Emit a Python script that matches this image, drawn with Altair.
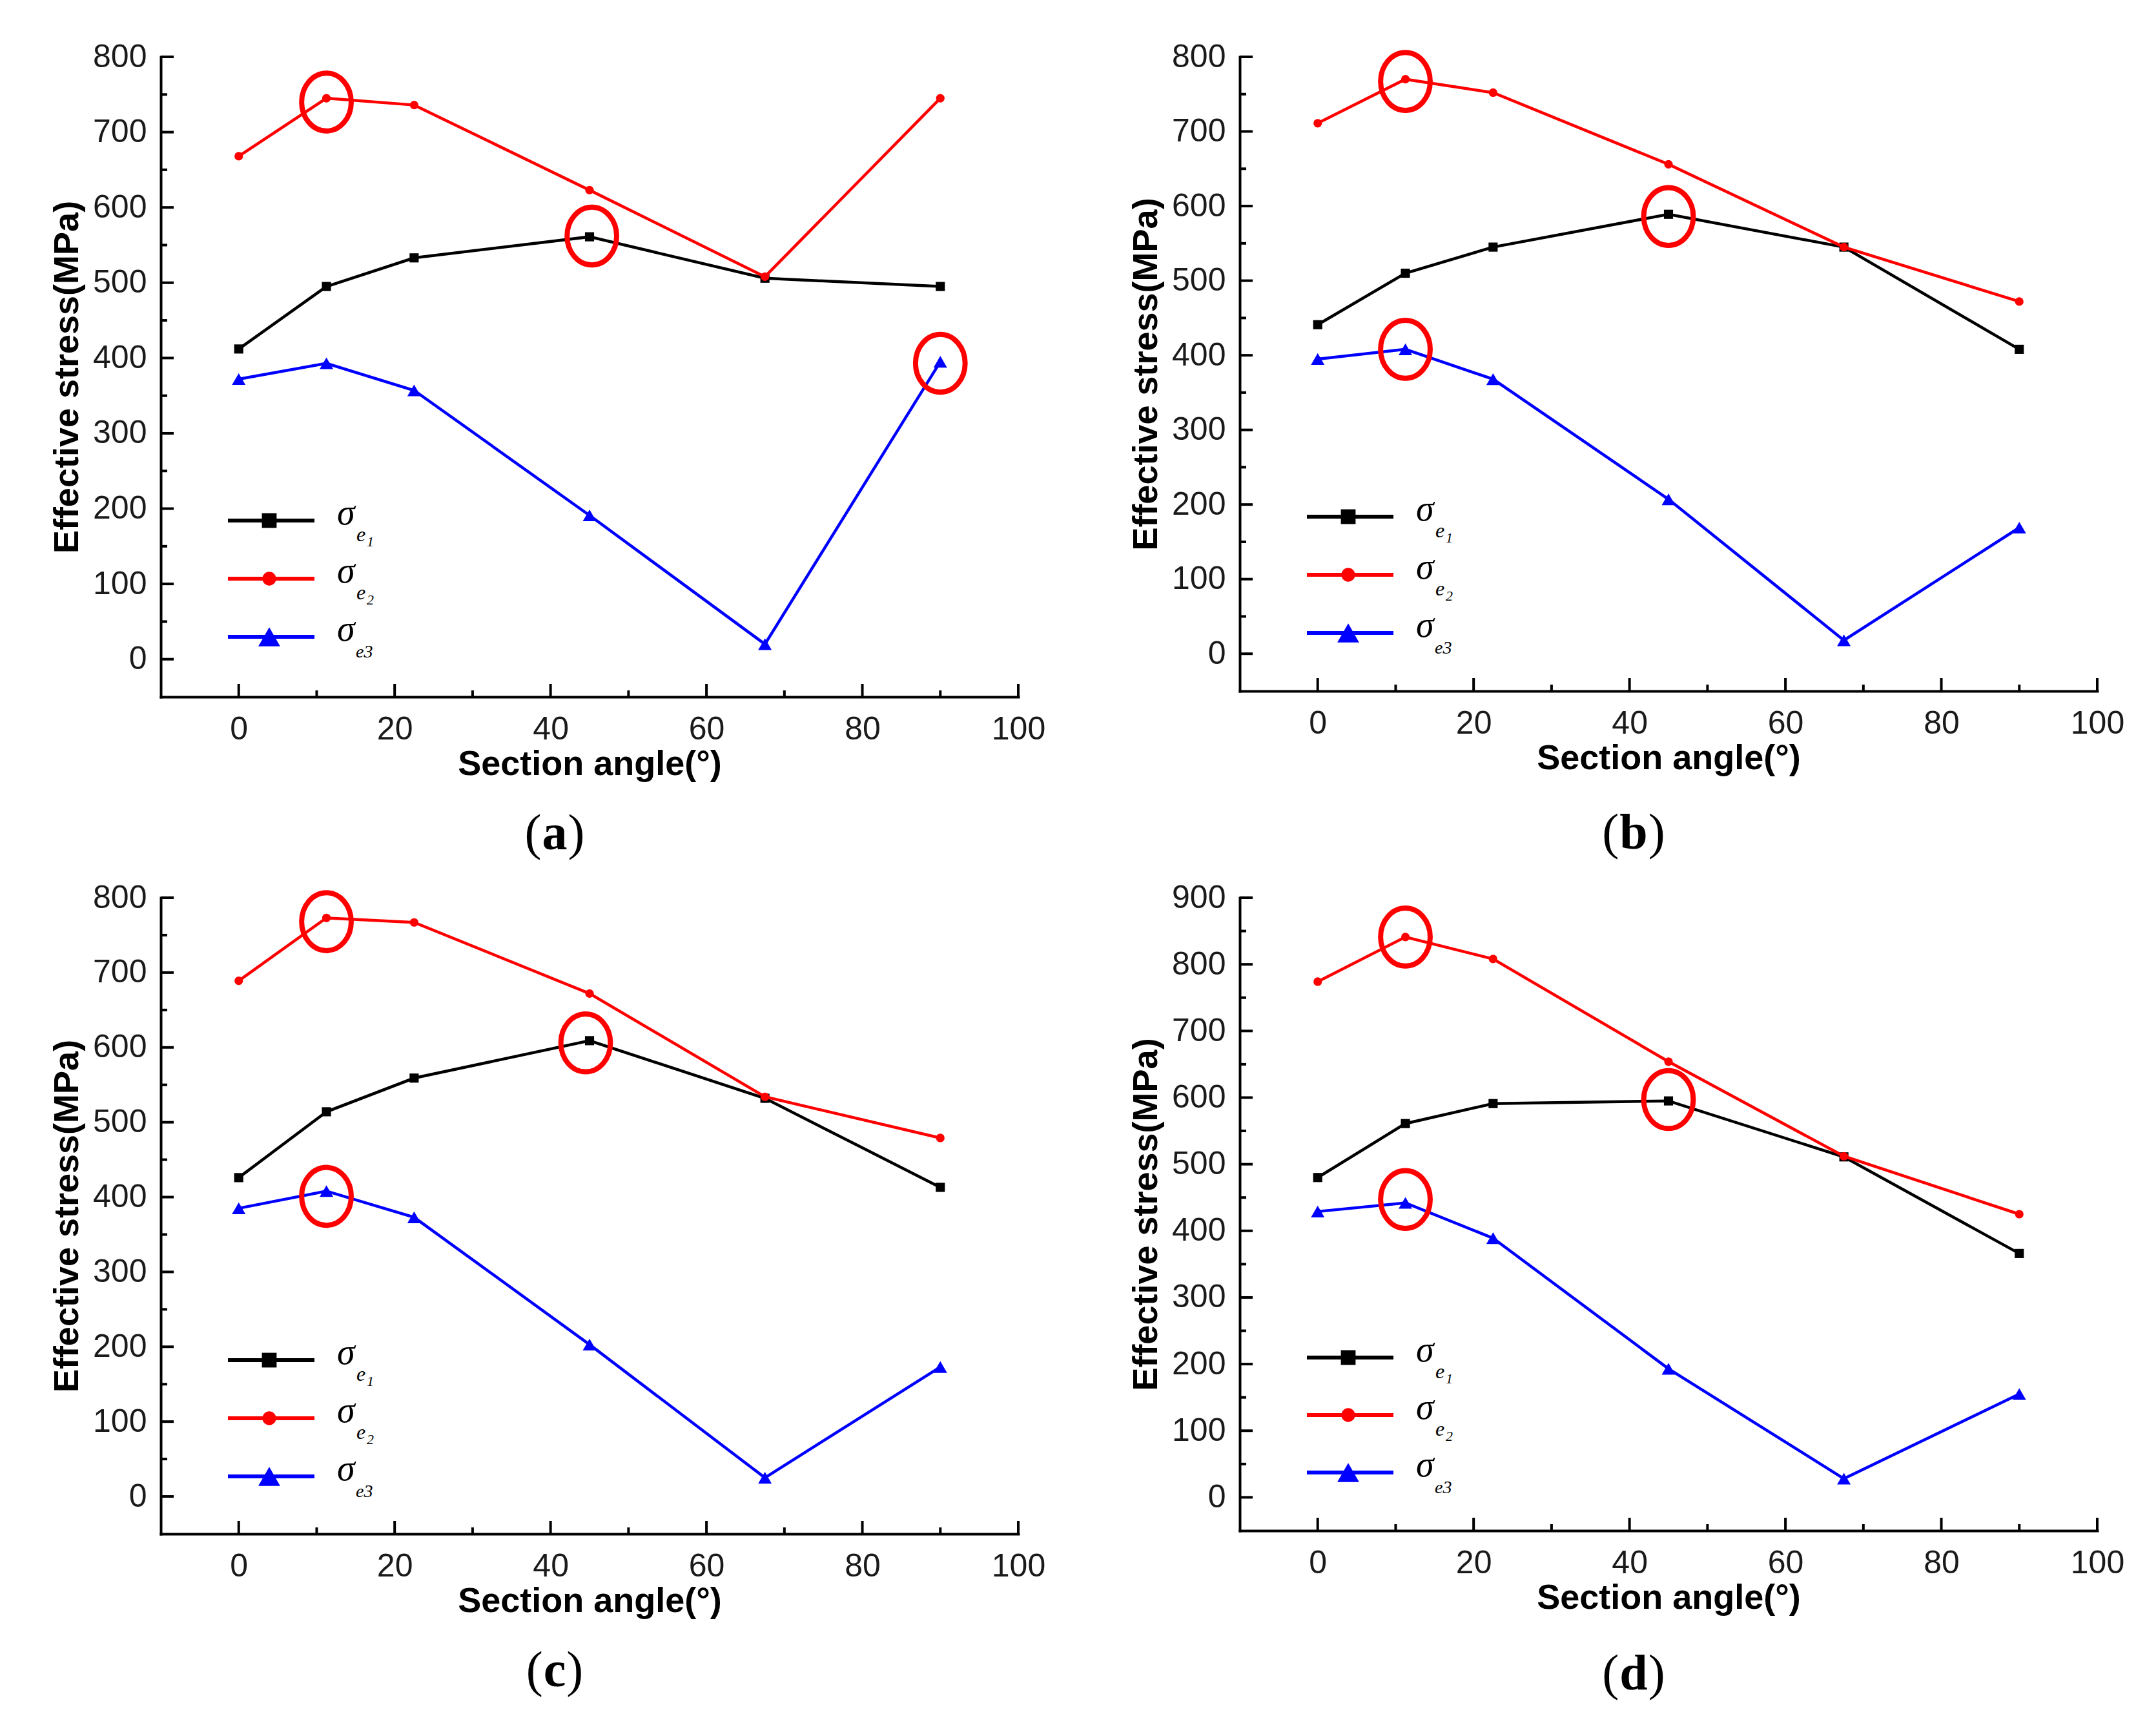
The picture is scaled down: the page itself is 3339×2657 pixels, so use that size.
import altair as alt
import pandas as pd

# ---------------- data ----------------
ANGLES = [0, 11.25, 22.5, 45, 67.5, 90]

A_E1 = [412, 495, 533, 561, 506, 495]
A_E2 = [668, 745, 736, 623, 508, 745]
A_E3 = [372, 393, 357, 191, 20, 395]
A_HX = [11.25, 45.3, 90]
A_HY = [740, 562, 393]

B_E1 = [441, 510, 545, 589, 545, 408]
B_E2 = [711, 770, 752, 656, 545, 472]
B_E3 = [395, 408, 368, 207, 18, 169]
B_HX = [11.25, 45, 11.25]
B_HY = [767, 586, 408]

C_E1 = [426, 514, 559, 609, 532, 413]
C_E2 = [689, 773, 767, 672, 534, 479]
C_E3 = [385, 408, 373, 203, 25, 173]
C_HX = [11.25, 44.5, 11.25]
C_HY = [768, 606, 401]

D_E1 = [480, 561, 591, 595, 511, 366]
D_E2 = [774, 841, 808, 654, 512, 425]
D_E3 = [429, 442, 389, 193, 28, 155]
D_HX = [11.25, 45, 11.25]
D_HY = [841, 597, 447]

X_LABELS = [0, 20, 40, 60, 80, 100]
X_MINOR = [10, 30, 50, 70, 90]

SUBS = ["1", "2", "3"]
COLORS = ["#000000", "#ff0000", "#0000ff"]
SHAPES = ["square", "circle", "triangle-up"]
SIZES = [200, 175, 440]

X_TITLE = "Section angle(°)"
Y_TITLE = "Effective stress(MPa)"

ONE = pd.DataFrame({"k": [0]})
ELLIPSE = "M0,-1.12A0.96,1.12,0,1,1,0,1.12A0.96,1.12,0,1,1,0,-1.12Z"
W = 1328
SANS = "Liberation Sans"
SERIF = "Liberation Serif"


def txt(t, x, y, size, style="normal", weight="normal", align="left"):
    return alt.Chart(ONE).mark_text(
        text=t, font=SERIF, fontSize=size, fontStyle=style, fontWeight=weight,
        align=align, baseline="alphabetic", color="black"
    ).encode(x=alt.value(x), y=alt.value(y))


def panel(series, hx, hy, ymax, h, letter, leg_y0, leg_step, lab_y, spacer=0):
    xs = alt.Scale(domain=[-10, 100], nice=False, zero=False)
    ys = alt.Scale(domain=[-50, ymax], nice=False, zero=False)
    x_axis = alt.Axis(values=X_LABELS, title=X_TITLE, ticks=False, tickSize=0, grid=False,
                      labelFlush=False, labelOverlap=False, labelFontSize=50, labelFont=SANS,
                      labelColor="#1a1a1a", labelPadding=25, titleFontSize=54, titleFont=SANS,
                      titleFontWeight="bold", titleColor="#000", titlePadding=2,
                      domainColor="#000", domainWidth=4, domainCap="square")
    y_axis = alt.Axis(values=list(range(0, ymax + 1, 100)), title=Y_TITLE, ticks=False, tickSize=0,
                      grid=False, labelOverlap=False, labelFontSize=50, labelFont=SANS,
                      labelColor="#1a1a1a", labelPadding=22, titleFontSize=54, titleFont=SANS,
                      titleFontWeight="bold", titleColor="#000", titlePadding=12,
                      domainColor="#000", domainWidth=4, domainCap="square")

    def X(f):
        return alt.X(f, scale=xs, axis=x_axis, title=X_TITLE)

    def Y(f):
        return alt.Y(f, scale=ys, axis=y_axis, title=Y_TITLE)

    layers = []
    for i, vals in enumerate(series):
        df = pd.DataFrame({"angle": ANGLES, "stress": vals})
        layers.append(alt.Chart(df).mark_line(color=COLORS[i], strokeWidth=4.5).encode(
            x=X("angle:Q"), y=Y("stress:Q")))
        layers.append(alt.Chart(df).mark_point(shape=SHAPES[i], filled=True, size=SIZES[i],
                                               color=COLORS[i], opacity=1).encode(
            x=X("angle:Q"), y=Y("stress:Q")))
    # inward tick marks
    ymaj = pd.DataFrame({"v": list(range(0, ymax + 1, 100))})
    ymin = pd.DataFrame({"v": list(range(50, ymax, 100))})
    xmaj = pd.DataFrame({"v": X_LABELS})
    xmin = pd.DataFrame({"v": X_MINOR})
    layers.append(alt.Chart(ymaj).mark_rule(color="#000", strokeWidth=4).encode(
        y=Y("v:Q"), x=alt.value(0), x2=alt.value(20)))
    layers.append(alt.Chart(ymin).mark_rule(color="#000", strokeWidth=4).encode(
        y=Y("v:Q"), x=alt.value(0), x2=alt.value(10)))
    layers.append(alt.Chart(xmaj).mark_rule(color="#000", strokeWidth=4).encode(
        x=X("v:Q"), y=alt.value(h), y2=alt.value(h - 20)))
    layers.append(alt.Chart(xmin).mark_rule(color="#000", strokeWidth=4).encode(
        x=X("v:Q"), y=alt.value(h), y2=alt.value(h - 10)))
    # highlight circles
    hdf = pd.DataFrame({"hx": hx, "hy": hy})
    layers.append(alt.Chart(hdf).mark_point(shape=ELLIPSE, size=6400, filled=False, color="#ff0000",
                                            strokeWidth=8, opacity=1).encode(
        x=X("hx:Q"), y=Y("hy:Q")))
    # manual legend
    for i in range(3):
        ly = leg_y0 + i * leg_step
        layers.append(alt.Chart(ONE).mark_rule(color=COLORS[i], strokeWidth=6).encode(
            x=alt.value(104), x2=alt.value(238), y=alt.value(ly)))
        layers.append(alt.Chart(ONE).mark_point(shape=SHAPES[i], filled=True, size=SIZES[i] * 2.6,
                                                color=COLORS[i], opacity=1).encode(
            x=alt.value(168), y=alt.value(ly)))
        layers.append(txt("σ", 273, ly + 6, 56, style="italic"))
        if i < 2:
            layers.append(txt("e", 303, ly + 32, 32, style="italic"))
            layers.append(txt(SUBS[i], 319, ly + 40, 22, style="italic"))
        else:
            layers.append(txt("e" + SUBS[i], 302, ly + 32, 28, style="italic"))
    # panel label with bold letter
    half = {"a": 0.5, "b": 0.556, "c": 0.444, "d": 0.556}[letter] * 78 / 2 + 1
    cx = 610
    layers.append(txt("(", cx - half, lab_y, 78, align="right"))
    layers.append(txt(letter, cx, lab_y, 78, weight="bold", align="center"))
    layers.append(txt(")", cx + half, lab_y, 78, align="left"))
    if spacer:
        # transparent spacer that adds room above this row
        layers.append(alt.Chart(ONE).mark_rule(strokeOpacity=0).encode(
            x=alt.value(0), x2=alt.value(10), y=alt.value(-25 - spacer)))
    return alt.layer(*layers).properties(width=W, height=h)


pa = panel([A_E1, A_E2, A_E3], A_HX, A_HY, 800, 991, "a", 718, 90, 1227)
pb = panel([B_E1, B_E2, B_E3], B_HX, B_HY, 800, 982, "b", 712, 90, 1226)
pc = panel([C_E1, C_E2, C_E3], C_HX, C_HY, 800, 985, "c", 716, 90, 1221, spacer=4)
pd_ = panel([D_E1, D_E2, D_E3], D_HX, D_HY, 900, 980, "d", 712, 89, 1226)

chart = alt.vconcat(
    alt.hconcat(pa, pb, spacing=129),
    alt.hconcat(pc, pd_, spacing=129),
    spacing=30,
).properties(
    padding={"left": 69, "top": 55, "right": 5, "bottom": 5},
    background="white",
).configure_view(strokeWidth=0)

chart.save("out.html", embed_options={"renderer": "svg", "actions": False})
